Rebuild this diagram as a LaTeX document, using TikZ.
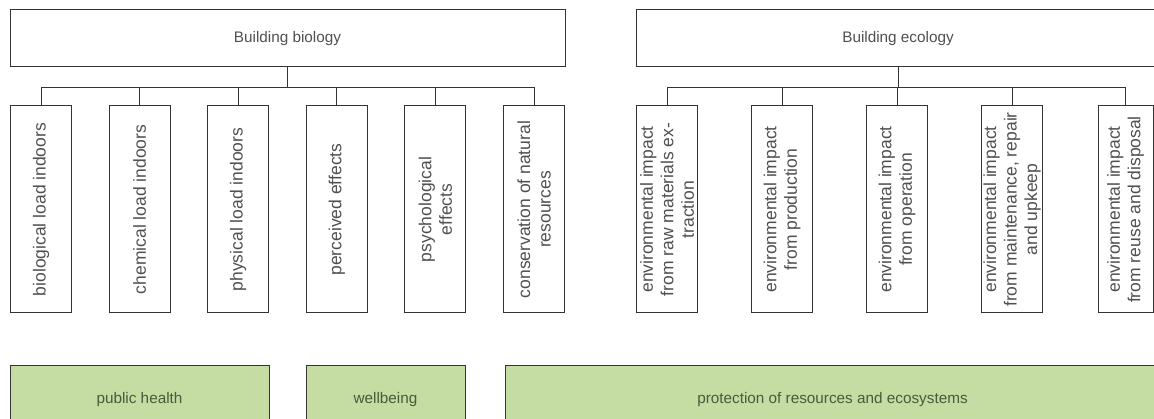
\documentclass[tikz,border=0pt]{standalone}
\usepackage{fontspec}
\setmainfont{Liberation Sans}
\usetikzlibrary{positioning}
\definecolor{framegray}{HTML}{333333}
\definecolor{textgray}{HTML}{505050}
\definecolor{leafgreen}{HTML}{C5DDA2}
\definecolor{greentext}{HTML}{4A5A3A}
\tikzset{
  headbox/.style={draw=framegray, line width=1pt, minimum height=57pt, inner sep=0pt, text=textgray, font=\fontsize{15.3}{18}\selectfont},
  leafbox/.style={draw=framegray, line width=1pt, rotate=90, minimum width=207pt, minimum height=61pt, inner sep=0pt, align=center, text=textgray, font=\fontsize{17.5}{20.5}\selectfont},
  goalbox/.style={draw=framegray, fill=leafgreen, line width=1pt, minimum height=68pt, inner sep=0pt, text=greentext, font=\fontsize{15.3}{18}\selectfont},
  branch/.style={draw=framegray, line width=0.9pt}
}
\begin{document}
\begin{tikzpicture}[x=1pt, y=-1pt]
\useasboundingbox (0,0) rectangle (1154,419);
\clip (0,0) rectangle (1154,419);
% two headings
\node[headbox, minimum width=555pt] (bio) at (287.5,38.5) {Building biology};
\node[headbox, minimum width=524pt] (eco) at (898,38.5) {Building ecology};
% building biology
\foreach \i/\txt in {0/biological load indoors, 1/chemical load indoors, 2/physical load indoors, 3/perceived effects, 4/{psychological\\effects}, 5/{conservation of natural\\resources}}
  \node[leafbox] (b\i) at ({41+98.6*\i},209.5) {\txt};
\foreach \i in {0,...,5} \draw[branch] (bio.south) -- ++(0,19.5) -| (b\i.east);
% building ecology
\foreach \i/\x/\w/\txt in {0/667/61/{environmental impact\\from raw materials ex-\\traction}, 1/782/61/{environmental impact\\from production}, 2/897/61/{environmental impact\\from operation}, 3/1012/61/{environmental impact\\from maintenance, repair\\and upkeep}, 4/1125.5/55/{environmental impact\\from reuse and disposal}}
  \node[leafbox, minimum height=\w pt] (e\i) at (\x,209.5) {\txt};
\foreach \i in {0,...,4} \draw[branch] (eco.south) -- ++(0,20) -| (e\i.east);
% goals
\node[goalbox, minimum width=259pt] (health) at (139.5,400) {public health};
\node[goalbox, minimum width=159pt] (wellbeing) at (385.5,400) {wellbeing};
\node[goalbox, minimum width=655pt] (protection) at (832.5,400) {protection of resources and ecosystems};
\end{tikzpicture}
\end{document}
